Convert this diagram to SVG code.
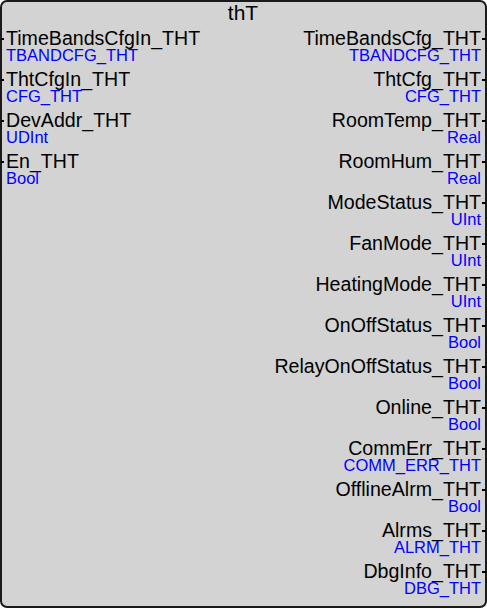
<svg xmlns="http://www.w3.org/2000/svg" width="487" height="609" viewBox="0 0 487 609">
<style>
.box{fill:#d3d3d3;stroke:#1a1a1a;stroke-width:2}
.n{font-family:"Liberation Sans",Arial,sans-serif;font-size:19.6px;fill:#000}
.t{font-family:"Liberation Sans",Arial,sans-serif;font-size:16.5px;fill:#0000ff}
.r{text-anchor:end}
.title{font-family:"Liberation Sans",Arial,sans-serif;font-size:21px;fill:#000;text-anchor:middle}
.pin{fill:#000}
</style>
<g id="block">
<rect class="box" x="1" y="1" width="485" height="606" rx="6" ry="6"/>
<text class="title" x="243" y="20">thT</text>
</g>
<g id="inputs">
<g id="in1"><rect class="pin" x="1" y="38" width="3" height="2"/><text class="n" x="6" y="45">TimeBandsCfgIn_THT</text><text class="t" x="6" y="61">TBANDCFG_THT</text></g>
<g id="in2"><rect class="pin" x="1" y="79" width="3" height="2"/><text class="n" x="6" y="86">ThtCfgIn_THT</text><text class="t" x="6" y="102">CFG_THT</text></g>
<g id="in3"><rect class="pin" x="1" y="120" width="3" height="2"/><text class="n" x="6" y="127">DevAddr_THT</text><text class="t" x="6" y="143">UDInt</text></g>
<g id="in4"><rect class="pin" x="1" y="161" width="3" height="2"/><text class="n" x="6" y="168">En_THT</text><text class="t" x="6" y="184">Bool</text></g>
</g>
<g id="outputs">
<g id="out1"><rect class="pin" x="482" y="38" width="4" height="2"/><text class="n r" x="481" y="45">TimeBandsCfg_THT</text><text class="t r" x="481" y="61">TBANDCFG_THT</text></g>
<g id="out2"><rect class="pin" x="482" y="79" width="4" height="2"/><text class="n r" x="481" y="86">ThtCfg_THT</text><text class="t r" x="481" y="102">CFG_THT</text></g>
<g id="out3"><rect class="pin" x="482" y="120" width="4" height="2"/><text class="n r" x="481" y="127">RoomTemp_THT</text><text class="t r" x="481" y="143">Real</text></g>
<g id="out4"><rect class="pin" x="482" y="161" width="4" height="2"/><text class="n r" x="481" y="168">RoomHum_THT</text><text class="t r" x="481" y="184">Real</text></g>
<g id="out5"><rect class="pin" x="482" y="202" width="4" height="2"/><text class="n r" x="481" y="209">ModeStatus_THT</text><text class="t r" x="481" y="225">UInt</text></g>
<g id="out6"><rect class="pin" x="482" y="243" width="4" height="2"/><text class="n r" x="481" y="250">FanMode_THT</text><text class="t r" x="481" y="266">UInt</text></g>
<g id="out7"><rect class="pin" x="482" y="284" width="4" height="2"/><text class="n r" x="481" y="291">HeatingMode_THT</text><text class="t r" x="481" y="307">UInt</text></g>
<g id="out8"><rect class="pin" x="482" y="325" width="4" height="2"/><text class="n r" x="481" y="332">OnOffStatus_THT</text><text class="t r" x="481" y="348">Bool</text></g>
<g id="out9"><rect class="pin" x="482" y="366" width="4" height="2"/><text class="n r" x="481" y="373">RelayOnOffStatus_THT</text><text class="t r" x="481" y="389">Bool</text></g>
<g id="out10"><rect class="pin" x="482" y="407" width="4" height="2"/><text class="n r" x="481" y="414">Online_THT</text><text class="t r" x="481" y="430">Bool</text></g>
<g id="out11"><rect class="pin" x="482" y="448" width="4" height="2"/><text class="n r" x="481" y="455">CommErr_THT</text><text class="t r" x="481" y="471">COMM_ERR_THT</text></g>
<g id="out12"><rect class="pin" x="482" y="489" width="4" height="2"/><text class="n r" x="481" y="496">OfflineAlrm_THT</text><text class="t r" x="481" y="512">Bool</text></g>
<g id="out13"><rect class="pin" x="482" y="530" width="4" height="2"/><text class="n r" x="481" y="537">Alrms_THT</text><text class="t r" x="481" y="553">ALRM_THT</text></g>
<g id="out14"><rect class="pin" x="482" y="571" width="4" height="2"/><text class="n r" x="481" y="578">DbgInfo_THT</text><text class="t r" x="481" y="594">DBG_THT</text></g>
</g>
<g id="connectors"></g>
</svg>
